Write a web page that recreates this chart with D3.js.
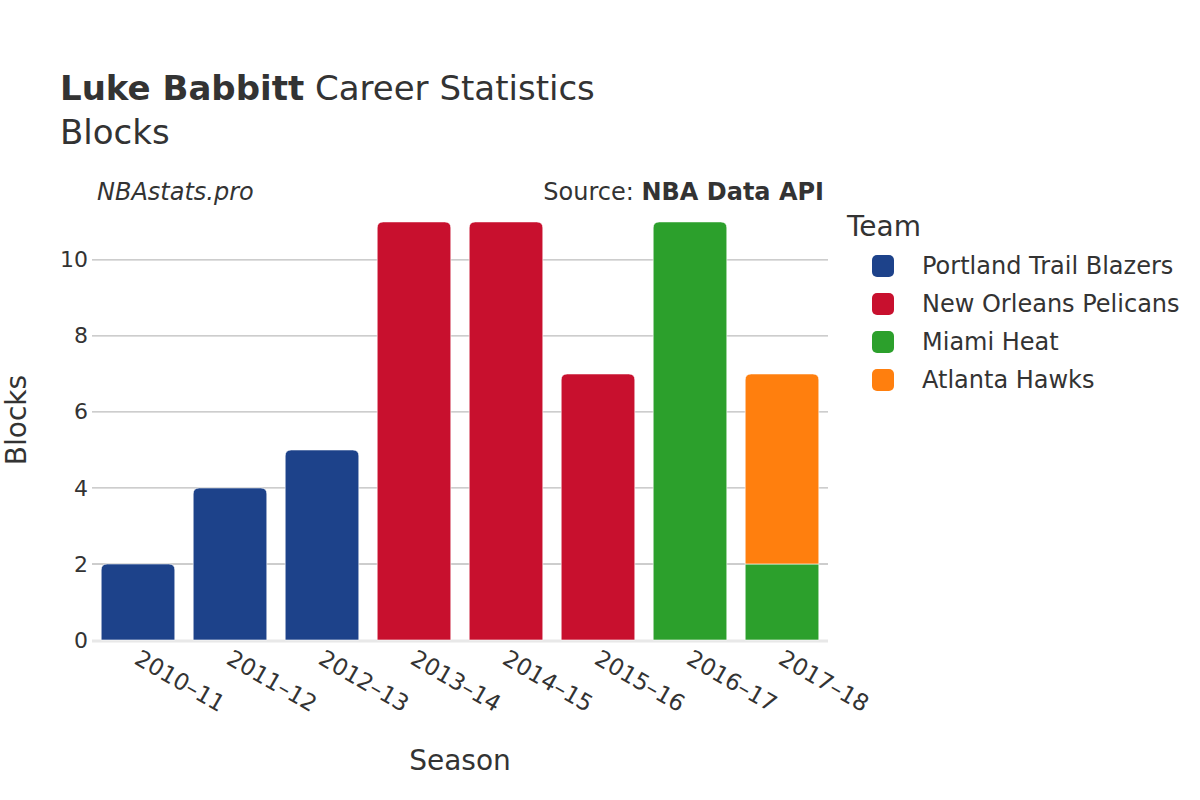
<!DOCTYPE html>
<html><head><meta charset="utf-8">
<script src="https://cdn.jsdelivr.net/npm/d3@7"></script>
<style>body{margin:0;background:#fff;font-family:"DejaVu Sans",sans-serif;}</style>
</head><body><svg id="c" width="1200" height="800"></svg>
<script>
const seasons = ["2010–11","2011–12","2012–13","2013–14","2014–15","2015–16","2016–17","2017–18"];
const teams = ["Portland Trail Blazers","New Orleans Pelicans","Miami Heat","Atlanta Hawks"];
const teamColors = ["#1d428a","#c8102e","#2ca02c","#ff7f0e"];
const portland = [2,4,5,0,0,0,0,0];
const pelicans = [0,0,0,11,11,7,0,0];
const miami = [0,0,0,0,0,0,11,2];
const atlanta = [0,0,0,0,0,0,0,5];
const yTicks = [0,2,4,6,8,10];

const series = [portland, pelicans, miami, atlanta];
const svg = d3.select("#c");
const ink = "#333";
const x = d3.scaleBand().domain(seasons).range([92,828]).paddingInner(0.2).paddingOuter(0.1);
const y = d3.scaleLinear().domain([0,11.55]).range([640,201]);

// grid
svg.append("g").selectAll("line").data(yTicks.filter(d=>d>0)).join("line")
  .attr("x1",92).attr("x2",828).attr("y1",d=>y(d)).attr("y2",d=>y(d))
  .attr("stroke","#bdbdbd").attr("stroke-width",1.3);
svg.append("line").attr("x1",92).attr("x2",828).attr("y1",y(0)+1).attr("y2",y(0)+1)
  .attr("stroke","#e8e8e8").attr("stroke-width",3);

// y axis labels
const yAxis = d3.axisLeft(y).tickValues(yTicks).tickSize(0).tickPadding(4);
const gy = svg.append("g").attr("transform","translate(92,0)").call(yAxis);
gy.select(".domain").remove();
gy.selectAll("text").attr("font-size",22).attr("fill",ink).attr("font-family","DejaVu Sans");

// bars
const r = 6;
function barPath(x0,w,yTop,yBot,round){
  if(!round) return `M${x0},${yBot}V${yTop}H${x0+w}V${yBot}Z`;
  return `M${x0},${yBot}V${yTop+r}Q${x0},${yTop} ${x0+r},${yTop}H${x0+w-r}Q${x0+w},${yTop} ${x0+w},${yTop+r}V${yBot}Z`;
}
const bars = [];
seasons.forEach((s,i)=>{
  let base = 0;
  let lastTeam = -1;
  series.forEach((arr,t)=>{ if(arr[i]>0) lastTeam=t; });
  series.forEach((arr,t)=>{
    const v = arr[i];
    if(v>0){
      bars.push({s, t, y0:base, y1:base+v, top:t===lastTeam});
      base += v;
    }
  });
});
svg.append("g").selectAll("path").data(bars).join("path")
  .attr("d",d=>barPath(x(d.s),x.bandwidth(),y(d.y1),y(d.y0),d.top))
  .attr("fill",d=>teamColors[d.t])
  .attr("stroke","rgba(255,255,255,0.6)").attr("stroke-width",1);

// x axis labels
const gx = svg.append("g");
gx.selectAll("text").data(seasons).join("text")
  .attr("transform",d=>`translate(${x(d)+x.bandwidth()/2-5},${663}) rotate(30)`)
  .attr("text-anchor","start").attr("font-size",23).attr("fill",ink).text(d=>d);

// titles
const title = svg.append("text").attr("x",60).attr("y",100).attr("font-size",34).attr("fill",ink);
title.append("tspan").attr("font-weight","bold").text("Luke Babbitt");
title.append("tspan").text(" Career Statistics");
svg.append("text").attr("x",60).attr("y",144).attr("font-size",34).attr("fill",ink).text("Blocks");
svg.append("text").attr("x",97).attr("y",200).attr("font-size",24).attr("font-style","italic").attr("fill",ink).text("NBAstats.pro");
const src = svg.append("text").attr("x",824).attr("y",200).attr("font-size",24).attr("text-anchor","end").attr("fill",ink);
src.append("tspan").text("Source: ");
src.append("tspan").attr("font-weight","bold").text("NBA Data API");

svg.append("text").attr("x",460).attr("y",770).attr("text-anchor","middle").attr("font-size",28).attr("fill",ink).text("Season");
svg.append("text").attr("transform","translate(26,420) rotate(-90)").attr("text-anchor","middle").attr("font-size",28).attr("fill",ink).text("Blocks");

// legend
svg.append("text").attr("x",847).attr("y",236).attr("font-size",28).attr("fill",ink).text("Team");
const lg = svg.append("g").selectAll("g").data(teams).join("g")
  .attr("transform",(d,i)=>`translate(872,${266+i*38})`);
lg.append("rect").attr("x",0).attr("y",-11).attr("width",22).attr("height",22).attr("rx",5)
  .attr("fill",(d,i)=>teamColors[i]);
lg.append("text").attr("x",50).attr("y",8).attr("font-size",24).attr("fill",ink).text(d=>d);
</script></body></html>
